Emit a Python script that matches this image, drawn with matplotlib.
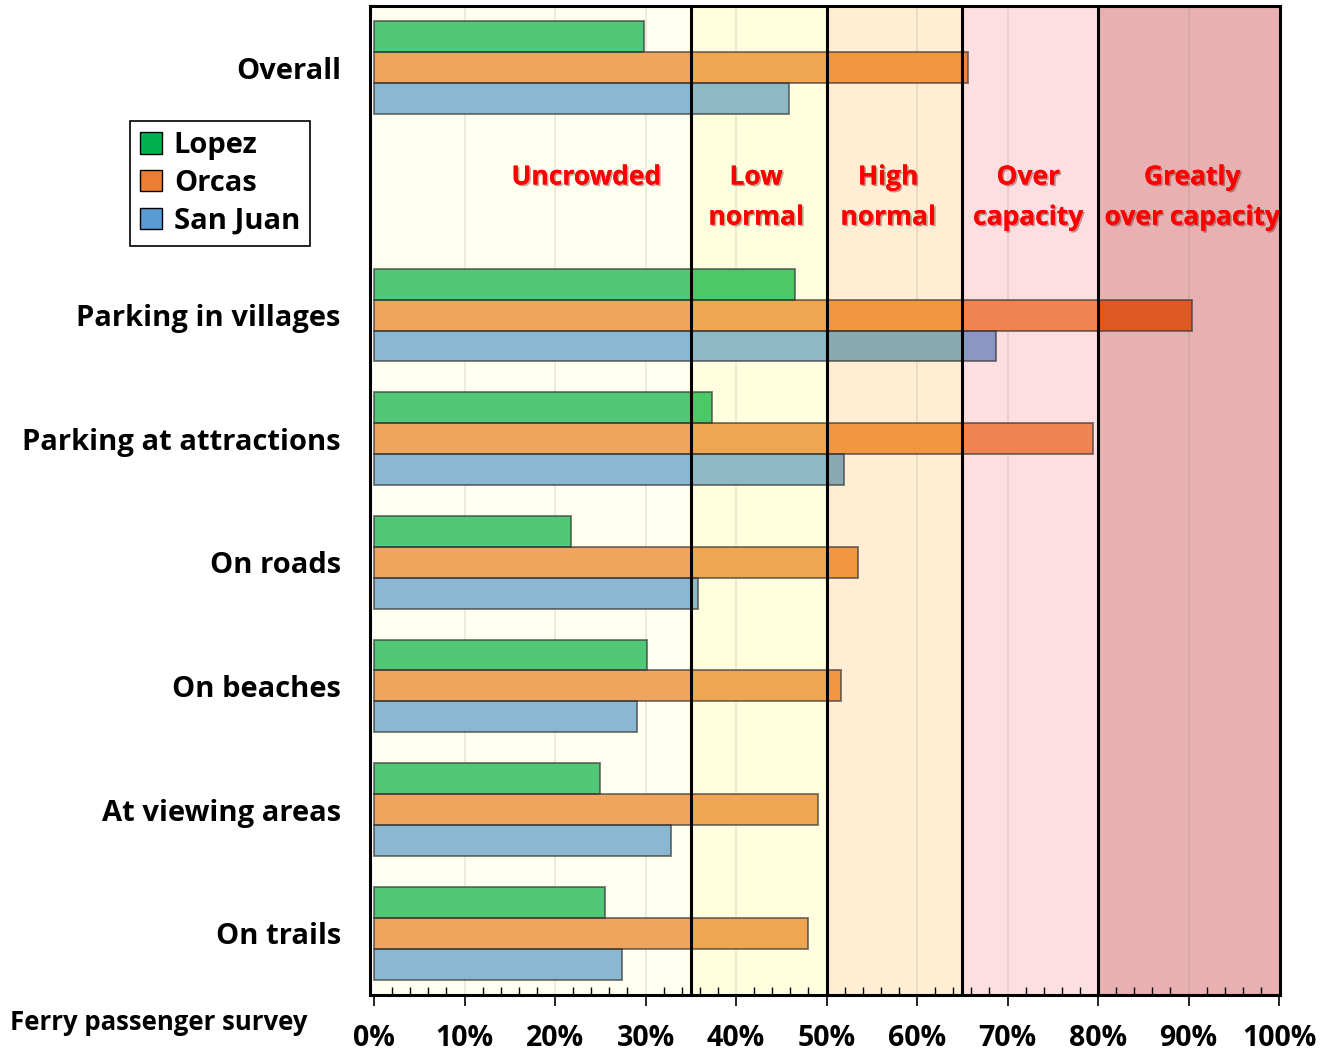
import matplotlib.pyplot as plt
import matplotlib.patheffects as pe
from matplotlib.patches import Patch

plt.rcParams['font.family'] = ['Open Sans', 'DejaVu Sans']

# categories top to bottom; None leaves an empty row for the band labels
categories = ['Overall', None, 'Parking in villages', 'Parking at attractions',
              'On roads', 'On beaches', 'At viewing areas', 'On trails']
islands = ['Lopez', 'Orcas', 'San Juan']

lopez = [29.8, 46.5, 37.3, 21.8, 30.2, 25.0, 25.5]
orcas = [65.6, 90.4, 79.4, 53.5, 51.6, 49.1, 48.0]
san_juan = [45.9, 68.7, 51.9, 35.8, 29.1, 32.8, 27.4]

# crowding bands (percent)
band_edges = [0, 35, 50, 65, 80, 100]
band_names = ['Uncrowded', 'Low\nnormal', 'High\nnormal', 'Over\ncapacity', 'Greatly\nover capacity']
band_bg = ['#FFFFF0', '#FFFFE0', '#FFEED3', '#FDDEE1', '#E8B0B0']

# bar fill shifts with the band it sits in
fills = {
    'Lopez': ['#50C878', '#4CC864', '#4CC864', '#4CC864', '#4CC864'],
    'Orcas': ['#F0A55F', '#F0A550', '#F29641', '#F08450', '#DE5724'],
    'San Juan': ['#8AB8D2', '#8CB9C3', '#8AA8B2', '#8A96C3', '#8A96C3'],
}
legend_colors = ['#00B050', '#ED7D31', '#5B9BD5']

fig = plt.figure(figsize=(13.24, 10.56), dpi=100)
ax = fig.add_axes([370 / 1324, 1 - 995 / 1056, 910 / 1324, 989 / 1056])

for i in range(len(band_bg)):
    ax.axvspan(band_edges[i], band_edges[i + 1], color=band_bg[i], zorder=0, lw=0)
for g in range(10, 100, 10):
    ax.axvline(g, color='#808060', alpha=0.18, lw=1.2, zorder=1)

rows = [i for i, c in enumerate(categories) if c is not None]
bar_h = 0.25
series = [('Lopez', lopez, -bar_h), ('Orcas', orcas, 0), ('San Juan', san_juan, bar_h)]
for name, vals, off in series:
    for row, v in zip(rows, vals):
        y = row + off
        for b in range(len(band_bg)):
            lo, hi = band_edges[b], min(band_edges[b + 1], v)
            if hi > lo:
                ax.barh(y, hi - lo, left=lo, height=bar_h, color=fills[name][b], lw=0, zorder=2)
        ax.barh(y, v, height=bar_h, fill=False, edgecolor='#3a3a3a', lw=1.3, alpha=0.7, zorder=3)

for edge in band_edges[1:-1]:
    ax.axvline(edge, color='black', lw=2.2, zorder=4)

# band labels in the empty row
shadow = [pe.withSimplePatchShadow(offset=(1.2, -1.2), alpha=0.35), pe.Normal()]
centers = [586, 756, 888, 1028, 1192]
for name, cx in zip(band_names, centers):
    xd = (cx - 374) / 9.05
    lines = name.split('\n')
    for k, line in enumerate(lines):
        ax.text(xd, 0.883 + 0.325 * k, line, color='#FF0000', fontsize=19, fontweight='bold',
                ha='center', va='center', zorder=5, path_effects=shadow)

ax.set_xlim(-0.45, 100.1)
ax.set_ylim(7.5, -0.5)
ax.set_yticks(rows)
ax.set_yticklabels([c for c in categories if c is not None], fontsize=21, fontweight='bold')
ax.tick_params(axis='y', length=0, pad=21)

ax.set_xticks(range(0, 101, 10))
ax.set_xticklabels([f'{t}%' for t in range(0, 101, 10)], fontsize=20.5, fontweight='bold')
ax.set_xticks(range(0, 101, 2), minor=True)
ax.tick_params(axis='x', which='major', direction='out', length=8, width=1.2, pad=13)
ax.tick_params(axis='x', which='minor', direction='in', length=6, width=1)

for s in ax.spines.values():
    s.set_linewidth(2.2)
    s.set_zorder(6)

fig.text(10 / 1324, 1 - 1022 / 1056, 'Ferry passenger survey', fontsize=18.5, fontweight='bold',
         ha='left', va='center')

handles = [Patch(facecolor=c, edgecolor='black', lw=1) for c in legend_colors]
leg = fig.legend(handles, islands, loc='upper left', bbox_to_anchor=(130 / 1324, 1 - 121 / 1056),
                 fancybox=False, edgecolor='black', framealpha=1, borderaxespad=0,
                 prop={'size': 21, 'weight': 'bold'}, handlelength=0.75, handleheight=0.75,
                 handletextpad=0.4, labelspacing=0.3, borderpad=0.35)
leg.get_frame().set_linewidth(1.2)

fig.savefig('out.png', dpi=100)
